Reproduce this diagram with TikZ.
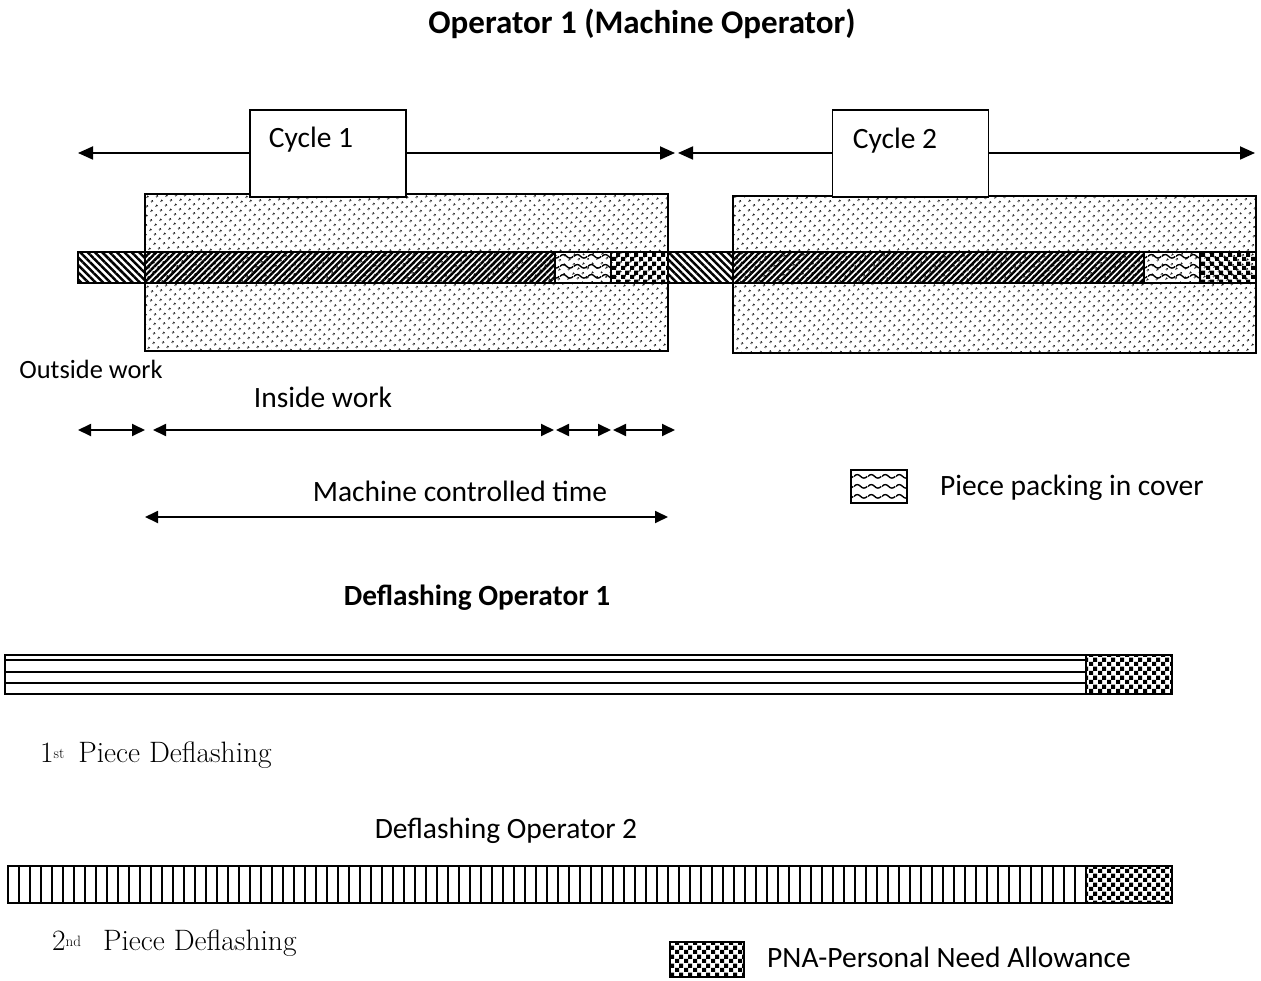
\documentclass[tikz,border=0pt]{standalone}
\usepackage{fontspec}
\setmainfont{Carlito}
\newfontfamily\lmser{Latin Modern Roman}
\usetikzlibrary{patterns,patterns.meta,arrows.meta}
\pgfdeclarepattern{
  name=checkerpat, type=uncolored,
  bottom left={\pgfpointorigin}, top right={\pgfpoint{9pt}{9pt}},
  tile size={\pgfpoint{9pt}{9pt}},
  code={\pgfpathrectangle{\pgfpointorigin}{\pgfpoint{4.5pt}{4.5pt}}%
        \pgfpathrectangle{\pgfpoint{4.5pt}{4.5pt}}{\pgfpoint{4.5pt}{4.5pt}}%
        \pgfusepath{fill}}}
\pgfdeclarepattern{
  name=wavepat, type=uncolored,
  bottom left={\pgfpointorigin}, top right={\pgfpoint{14pt}{10pt}},
  tile size={\pgfpoint{14pt}{10pt}},
  code={\pgfsetlinewidth{1.5pt}%
        \pgfpathmoveto{\pgfpoint{0pt}{5pt}}%
        \pgfpathcurveto{\pgfpoint{2.3pt}{7.5pt}}{\pgfpoint{4.7pt}{7.5pt}}{\pgfpoint{7pt}{5pt}}%
        \pgfpathcurveto{\pgfpoint{9.3pt}{2.5pt}}{\pgfpoint{11.7pt}{2.5pt}}{\pgfpoint{14pt}{5pt}}%
        \pgfusepath{stroke}}}
\tikzset{
  box/.style={draw, line width=1.8pt},
  dotsbox/.style={box, pattern={Dots[distance=6.5pt, angle=45, radius=1.3pt]}},
  nelines/.style={box, pattern={Lines[angle=45, distance=4.4pt, line width=2.5pt]}},
  nwlines/.style={box, pattern={Lines[angle=-45, distance=5.2pt, line width=2.5pt]}},
  wavy/.style={box, pattern=wavepat},
  checker/.style={box, pattern=checkerpat},
  cyclebox/.style={draw, line width=1.4pt, fill=white, minimum width=156pt, minimum height=87pt, inner sep=0pt},
  arr/.style={line width=1.8pt, -{Triangle[length=15pt,width=13pt]}},
  darr/.style={line width=1.8pt, {Triangle[length=13pt,width=12pt]}-{Triangle[length=13pt,width=12pt]}},
  lbl/.style={font=\fontsize{29.5}{33}\selectfont, inner sep=0pt},
  slbl/.style={font=\fontsize{26.4}{30}\selectfont, inner sep=0pt},
  blbl/.style={font=\bfseries\fontsize{29.3}{33}\selectfont, inner sep=0pt},
  tlbl/.style={font=\bfseries\fontsize{33}{37}\selectfont, inner sep=0pt},
  serlbl/.style={font=\lmser\fontsize{29.5}{33}\selectfont, inner sep=0pt, anchor=west},
}
\begin{document}
\begin{tikzpicture}[x=1pt,y=-1pt]
\useasboundingbox (0,0) rectangle (1261,981);

% title
\node[tlbl] (title) at (642,24) {Operator 1 (Machine Operator)};

% dotted machine rectangles
\path[dotsbox] (145,194) rectangle (668,351);
\path[dotsbox] (733,196) rectangle (1256,353);

% band cycle 1
\path[nwlines] (78,252) rectangle (145,283);
\path[nelines] (145,252) rectangle (555,283);
\path[wavy] (555,252) rectangle (611,283);
\path[checker] (611,252) rectangle (668,283);
% band between / cycle 2
\path[nwlines] (668,252) rectangle (733,283);
\path[nelines] (733,252) rectangle (1144,283);
\path[wavy] (1144,252) rectangle (1200,283);
\path[checker] (1200,252) rectangle (1256,283);

% cycle boxes
\node[cyclebox] (c1) at (328,153.5) {};
\node[lbl] (c1t) at (311,140) {Cycle 1};
\node[cyclebox] (c2) at (910.5,153.5) {};
\node[lbl] (c2t) at (895,141) {Cycle 2};

\coordinate (a1l) at (78,153);
\coordinate (a1r) at (675,153);
\coordinate (a2l) at (678,153);
\coordinate (a2r) at (1255,153);
\draw[arr] (c1.west |- a1l) -- (a1l);
\draw[arr] (c1.east |- a1r) -- (a1r);
\draw[arr] (c2.west |- a2l) -- (a2l);
\draw[arr] (c2.east |- a2r) -- (a2r);

% work labels and arrows
\node[slbl] (outw) at (91,369) {Outside work};
\node[lbl] (insw) at (323,397) {Inside work};
\coordinate (o1) at (78,430); \coordinate (o2) at (145,430);
\coordinate (i1) at (153,430); \coordinate (i2) at (554,430);
\coordinate (p1) at (556,430); \coordinate (p2) at (611,430);
\coordinate (q1) at (613,430); \coordinate (q2) at (675,430);
\draw[darr] (o1) -- (o2);
\draw[darr] (i1) -- (i2);
\draw[darr] (p1) -- (p2);
\draw[darr] (q1) -- (q2);

\node[lbl] (mct) at (460,491) {Machine controlled time};
\coordinate (m1) at (145,517); \coordinate (m2) at (668,517);
\draw[darr] (m1) -- (m2);

% legend packing
\path[wavy] (851,470) rectangle (907,503);
\node[lbl, anchor=west] (lpack) at (940,488) {Piece packing in cover};

% Deflashing operator 1
\node[blbl] (d1t) at (477,598) {Deflashing Operator 1};
\draw[line width=1.8pt] (5,655) rectangle (1086,694);
\foreach \yy in {660,671.5,682.5} \draw[line width=2pt] (5,\yy) -- (1086,\yy);
\path[checker] (1086,655) rectangle (1172,694);
\node[serlbl] (d1p) at (40,755) {1{\fontsize{15}{15}\selectfont\raisebox{0.6ex}{st}}\, Piece Deflashing};

% Deflashing operator 2
\node[lbl] (d2t) at (506,831) {Deflashing Operator 2};
\draw[line width=1.8pt] (8,866) rectangle (1086,903);
\foreach \xx in {19,30,...,1080} \draw[line width=2pt] (\xx,866) -- (\xx,903);
\path[checker] (1086,866) rectangle (1172,903);
\node[serlbl] (d2p) at (52,943) {2{\fontsize{15}{15}\selectfont\raisebox{0.6ex}{nd}}\;\, Piece Deflashing};

% PNA legend
\path[checker] (670,942) rectangle (744,977);
\node[lbl, anchor=west] (lpna) at (767,957) {PNA-Personal Need Allowance};
\end{tikzpicture}
\end{document}
